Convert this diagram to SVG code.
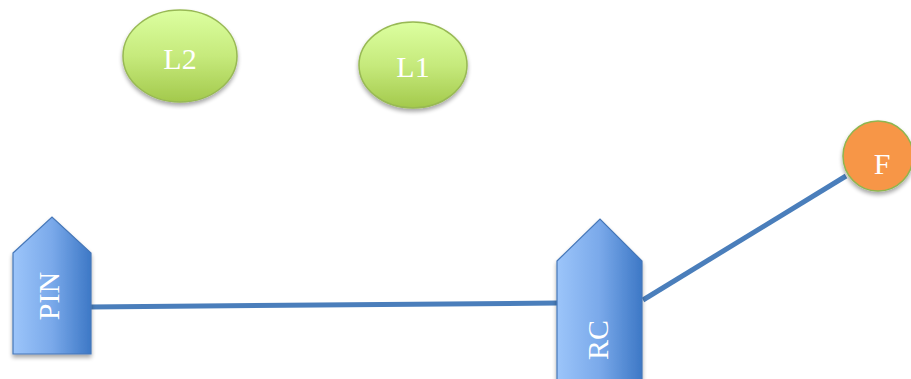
<svg xmlns="http://www.w3.org/2000/svg" width="911" height="379" viewBox="0 0 911 379">
<defs>
<linearGradient id="gBlue" x1="0" y1="0" x2="1" y2="0">
<stop offset="0" stop-color="#9cc5fa"/>
<stop offset="0.5" stop-color="#7aa9ea"/>
<stop offset="1" stop-color="#3d78c6"/>
</linearGradient>
<linearGradient id="gGreen" x1="0" y1="0" x2="0" y2="1">
<stop offset="0" stop-color="#dcffa0"/>
<stop offset="0.5" stop-color="#c6ea7c"/>
<stop offset="1" stop-color="#a3c94c"/>
</linearGradient>
<filter id="sh" x="-20%" y="-20%" width="140%" height="140%">
<feGaussianBlur in="SourceAlpha" stdDeviation="2"/>
<feOffset dx="0" dy="3" result="b"/>
<feComponentTransfer><feFuncA type="linear" slope="0.35"/></feComponentTransfer>
<feMerge><feMergeNode/><feMergeNode in="SourceGraphic"/></feMerge>
</filter>
</defs>
<style>
.blue{fill:url(#gBlue);stroke:#4677b8;stroke-width:1.2}
.green{fill:url(#gGreen);stroke:#98b954;stroke-width:1.5}
.orange{fill:#f79646;stroke:#8fb54f;stroke-width:1.5}
.lbl{font-family:"Liberation Serif","DejaVu Serif",serif;fill:#ffffff;font-size:30px;text-anchor:middle}
.conn{stroke:#4a7ebb;stroke-width:5;fill:none}
</style>
<g id="connectors">
<line class="conn" x1="89" y1="307" x2="557" y2="303"/>
<line class="conn" x1="643" y1="300" x2="846" y2="176"/>
</g>
<g id="L2">
<ellipse class="green" cx="180" cy="56" rx="57" ry="46" filter="url(#sh)"/>
<text class="lbl" x="180" y="69">L2</text>
</g>
<g id="L1">
<ellipse class="green" cx="413" cy="65" rx="54" ry="43" filter="url(#sh)"/>
<text class="lbl" x="413" y="77">L1</text>
</g>
<g id="F">
<circle class="orange" cx="878" cy="156" r="35" filter="url(#sh)"/>
<text class="lbl" x="882" y="174">F</text>
</g>
<g id="PIN">
<path class="blue" d="M13 253 L52 217 L91 253 L91 354 L13 354 Z" filter="url(#sh)"/>
<text class="lbl" transform="translate(59 296) rotate(-90)">PIN</text>
</g>
<g id="RC">
<path class="blue" d="M557 261 L600 219 L642 261 L642 385 L557 385 Z" filter="url(#sh)"/>
<text class="lbl" transform="translate(608 340) rotate(-90)">RC</text>
</g>
</svg>
